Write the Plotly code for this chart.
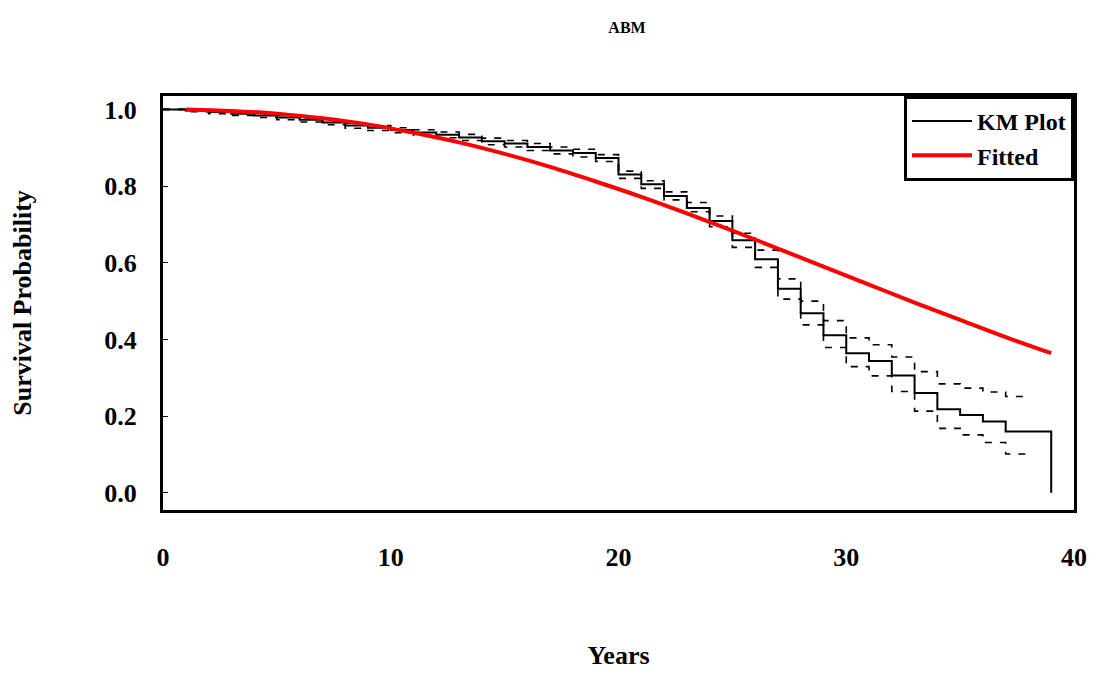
import plotly.graph_objects as go

# Kaplan-Meier estimate (step function), years 0..39
km_years = list(range(0, 40))
km_surv = [1.000, 0.997, 0.993, 0.989, 0.984, 0.979, 0.973, 0.966, 0.958, 0.952,
           0.946, 0.940, 0.934, 0.927, 0.917, 0.911, 0.902, 0.893, 0.886, 0.873,
           0.830, 0.805, 0.774, 0.743, 0.709, 0.659, 0.609, 0.532, 0.468, 0.411,
           0.364, 0.344, 0.306, 0.260, 0.218, 0.203, 0.186, 0.160, 0.160, 0.000]

# Confidence bounds (dashed), years 0..38
ci_years = list(range(0, 39))
ci_upper = [1.000, 0.999, 0.996, 0.993, 0.988, 0.984, 0.978, 0.971, 0.964, 0.958,
            0.952, 0.947, 0.941, 0.935, 0.925, 0.919, 0.911, 0.902, 0.896, 0.882,
            0.839, 0.814, 0.785, 0.757, 0.722, 0.677, 0.633, 0.558, 0.500, 0.449,
            0.404, 0.386, 0.354, 0.316, 0.284, 0.273, 0.263, 0.251, 0.251]
ci_lower = [1.000, 0.994, 0.989, 0.984, 0.979, 0.973, 0.967, 0.960, 0.951, 0.945,
            0.939, 0.933, 0.926, 0.919, 0.908, 0.902, 0.893, 0.884, 0.876, 0.864,
            0.820, 0.794, 0.764, 0.733, 0.694, 0.640, 0.588, 0.505, 0.438, 0.379,
            0.329, 0.305, 0.264, 0.213, 0.168, 0.151, 0.131, 0.101, 0.101]

# Fitted survival curve (read at odd years)
fit_years = [1, 3, 5, 7, 9, 11, 13, 15, 17, 19, 21, 23, 25, 27, 29, 31, 33, 35, 37, 39]
fit_surv = [1.000, 0.996, 0.989, 0.977, 0.961, 0.939, 0.914, 0.884, 0.850, 0.812,
            0.772, 0.729, 0.684, 0.637, 0.590, 0.543, 0.496, 0.451, 0.406, 0.364]

x_ticks = [0, 10, 20, 30, 40]
y_ticks = [0.0, 0.2, 0.4, 0.6, 0.8, 1.0]

FONT = "Liberation Serif, Times New Roman, serif"
FS = 26

fig = go.Figure()
fig.add_trace(go.Scatter(x=ci_years, y=ci_upper, mode="lines", line_shape="hv",
                         line=dict(color="black", width=1.6, dash="7px,8px"),
                         showlegend=False, hoverinfo="skip"))
fig.add_trace(go.Scatter(x=ci_years, y=ci_lower, mode="lines", line_shape="hv",
                         line=dict(color="black", width=1.6, dash="7px,8px"),
                         showlegend=False, hoverinfo="skip"))
fig.add_trace(go.Scatter(x=km_years, y=km_surv, mode="lines", line_shape="hv",
                         line=dict(color="black", width=2), name="KM Plot"))
fig.add_trace(go.Scatter(x=fit_years, y=fit_surv, mode="lines", line_shape="spline",
                         line=dict(color="#ff0000", width=4), name="Fitted"))

fig.update_layout(
    width=1094, height=675,
    margin=dict(l=163, r=20, t=96, b=165, autoexpand=False),
    paper_bgcolor="white", plot_bgcolor="white",
    font=dict(family=FONT, color="black", size=FS, weight="bold"),
    title=dict(text="ABM", x=627 / 1094, xanchor="center", y=1 - 27 / 675, yanchor="middle",
               font=dict(family=FONT, size=16, weight="bold", color="black")),
    legend=dict(x=1, xanchor="right", y=1, yanchor="top",
                bordercolor="black", borderwidth=3, bgcolor="white",
                font=dict(family=FONT, size=24, weight="bold", color="black"),
                itemwidth=60, entrywidth=170, entrywidthmode="pixels", tracegroupgap=0),
)
fig.update_xaxes(range=[0, 40], tickvals=x_ticks, ticktext=[str(v) for v in x_ticks],
                 showgrid=False, zeroline=False, showline=True, linecolor="black",
                 linewidth=3, mirror=True, ticks="", ticklabelstandoff=22,
                 tickfont=dict(family=FONT, size=FS, weight="bold"),
                 title=dict(text="Years", standoff=75,
                            font=dict(family=FONT, size=FS, weight="bold")),
                 automargin=False)
fig.update_yaxes(range=[-0.045, 1.035], tickvals=y_ticks, ticktext=[f"{v:.1f}" for v in y_ticks],
                 showgrid=False, zeroline=False, showline=True, linecolor="black",
                 linewidth=3, mirror=True, ticks="inside", ticklen=5, tickwidth=1,
                 tickcolor="black", ticklabelstandoff=18,
                 tickfont=dict(family=FONT, size=FS, weight="bold"),
                 title=dict(text="Survival Probability", standoff=66,
                            font=dict(family=FONT, size=FS, weight="bold")),
                 automargin=False)

fig.write_html("out.html")
